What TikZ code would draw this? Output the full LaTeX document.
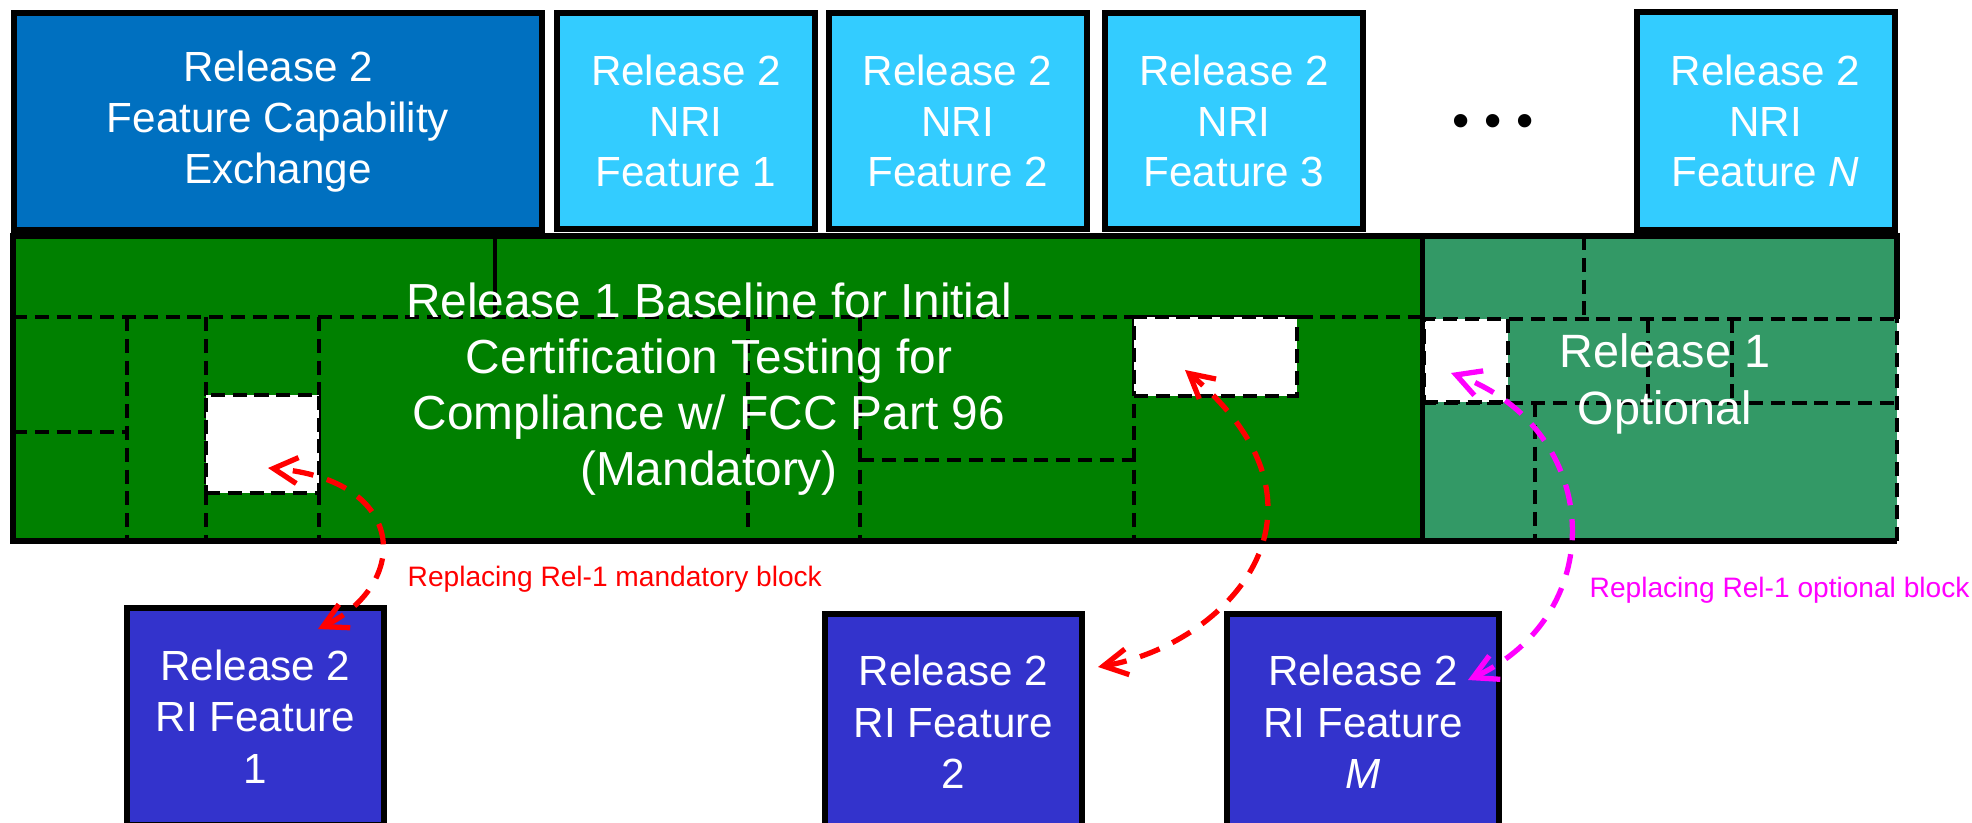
\documentclass[tikz,border=0pt]{standalone}
\usepackage{fontspec}
\setmainfont{Liberation Sans}
\usetikzlibrary{arrows.meta}
\definecolor{fcblue}{HTML}{0070C0}
\definecolor{nriblue}{HTML}{33CCFF}
\definecolor{riblue}{HTML}{3333CC}
\definecolor{mandgreen}{HTML}{008000}
\definecolor{optgreen}{HTML}{339966}
\definecolor{optpink}{HTML}{FF00FF}
\begin{document}
\begin{tikzpicture}[
    box/.style={draw=black, line width=1.7pt, text=white, align=center, inner sep=0pt},
    nribox/.style={box, fill=nriblue, minimum width=2.58cm, minimum height=2.16cm,
      font=\fontsize{12}{14.4}\selectfont},
    ribox/.style={box, fill=riblue, minimum width=2.57cm, minimum height=2.17cm,
      font=\fontsize{12}{14.7}\selectfont},
    region/.style={inner sep=0pt, minimum height=3.05cm},
    cell/.style={black, line width=1.1pt, dash pattern=on 4pt off 2.2pt},
    hole/.style={cell, draw=black, fill=white, inner sep=0pt},
    frame/.style={black, line width=1.5pt},
    swap/.style={<->, >={Straight Barb[length=2.4mm,width=2.6mm]}, line width=1.5pt,
      dash pattern=on 6pt off 4pt},
    note/.style={font=\fontsize{8}{9.6}\selectfont, anchor=base west, inner sep=0pt}]

  \useasboundingbox (0,0) rectangle (19.72,8.23);

  % release 1 blocks
  \node[region, fill=mandgreen, minimum width=14.09cm] (mand) at (7.175,4.345) {};
  \node[region, fill=optgreen, minimum width=4.75cm] (opt) at (16.595,4.345) {};

  \draw[cell] (0.13,5.06) -- (14.22,5.06);
  \draw[cell] (1.27,5.06) -- (1.27,2.82);
  \draw[cell] (0.13,3.91) -- (1.27,3.91);
  \draw[cell] (2.06,5.06) -- (2.06,2.82);
  \draw[cell] (3.19,5.06) -- (3.19,2.82);
  \draw[cell] (7.48,5.06) -- (7.48,2.95);
  \draw[cell] (8.60,5.06) -- (8.60,2.82);
  \draw[cell] (8.60,3.63) -- (11.34,3.63);
  \draw[cell] (11.34,5.06) -- (11.34,2.82);
  \draw[line width=0.9pt] (4.95,5.87) -- (4.95,5.06);

  \draw[cell] (14.22,5.04) -- (18.97,5.04);
  \draw[cell] (15.84,5.87) -- (15.84,5.04);
  \draw[cell] (14.22,4.20) -- (18.97,4.20);
  \draw[cell] (16.48,5.04) -- (16.48,4.20);
  \draw[cell] (17.32,5.04) -- (17.32,4.20);
  \draw[cell] (15.35,4.20) -- (15.35,2.82);

  \node[hole, minimum width=1.13cm, minimum height=0.98cm] (wa) at (2.625,3.79) {};
  \node[hole, minimum width=1.63cm, minimum height=0.79cm] (wb) at (12.155,4.665) {};
  \node[hole, minimum width=0.84cm, minimum height=0.83cm] (wc) at (14.66,4.625) {};

  \draw[frame] (18.97,5.04) -- (18.97,5.87) -- (0.13,5.87) -- (0.13,2.82) -- (18.97,2.82);
  \draw[cell] (18.97,2.82) -- (18.97,5.04);
  \draw[frame] (mand.north east) -- (mand.south east);

  \node[text=white, align=center, font=\fontsize{13.6}{16}\selectfont] (mandtext) at (7.09,4.34)
    {Release 1 Baseline for Initial\\Certification Testing for\\Compliance w/ FCC Part 96\\(Mandatory)};
  \node[text=white, align=center, font=\fontsize{13.3}{16}\selectfont] (opttext) at (16.65,4.39)
    {Release 1\\Optional};

  % release 2 blocks
  \node[box, fill=fcblue, minimum width=5.28cm, minimum height=2.17cm,
    font=\fontsize{12}{14.4}\selectfont] (fce) at (2.78,7.015)
    {Release 2\\Feature Capability\\Exchange};
  \node[nribox] (nri1) at (6.86,7.02) {Release 2\\NRI\\Feature 1};
  \node[nribox] (nri2) at (9.575,7.02) {Release 2\\NRI\\Feature 2};
  \node[nribox] (nri3) at (12.34,7.02) {Release 2\\NRI\\Feature 3};
  \node[font=\fontsize{14}{14}\selectfont] (dots) at (14.93,6.97) {•\kern4.2pt•\kern4.2pt•};
  \node[nribox, minimum height=2.18cm] (nrin) at (17.655,7.02) {Release 2\\NRI\\Feature \textit{N}};

  \node[ribox] (ri1) at (2.555,1.065) {Release 2\\RI Feature\\1};
  \node[ribox, minimum height=2.16cm] (ri2) at (9.535,1.01) {Release 2\\RI Feature\\2};
  \node[ribox, minimum width=2.72cm, minimum height=2.16cm] (rim) at (13.63,1.01) {Release 2\\RI Feature\\\textit{M}};

  \draw[swap, red] ([shift={(0.625,-0.24)}]ri1.north)
    to[out=26, in=-5, out distance=1.02cm, in distance=1.42cm] ([shift={(0.055,-0.24)}]wa.center);
  \draw[swap, red] ([shift={(0.13,0.55)}]ri2.east)
    to[out=10, in=-40, out distance=1.3cm, in distance=2.2cm] ([shift={(-0.305,-0.135)}]wb.center);
  \draw[swap, optpink] ([shift={(-0.34,0.42)}]rim.east)
    to[out=25, in=-20, out distance=1.6cm, in distance=1.6cm] ([shift={(-0.15,-0.125)}]wc.center);

  \node[note, text=red] (mandnote) at (4.07,2.36) {Replacing Rel-1 mandatory block};
  \node[note, text=optpink] (optnote) at (15.89,2.25) {Replacing Rel-1 optional block};
\end{tikzpicture}
\end{document}
